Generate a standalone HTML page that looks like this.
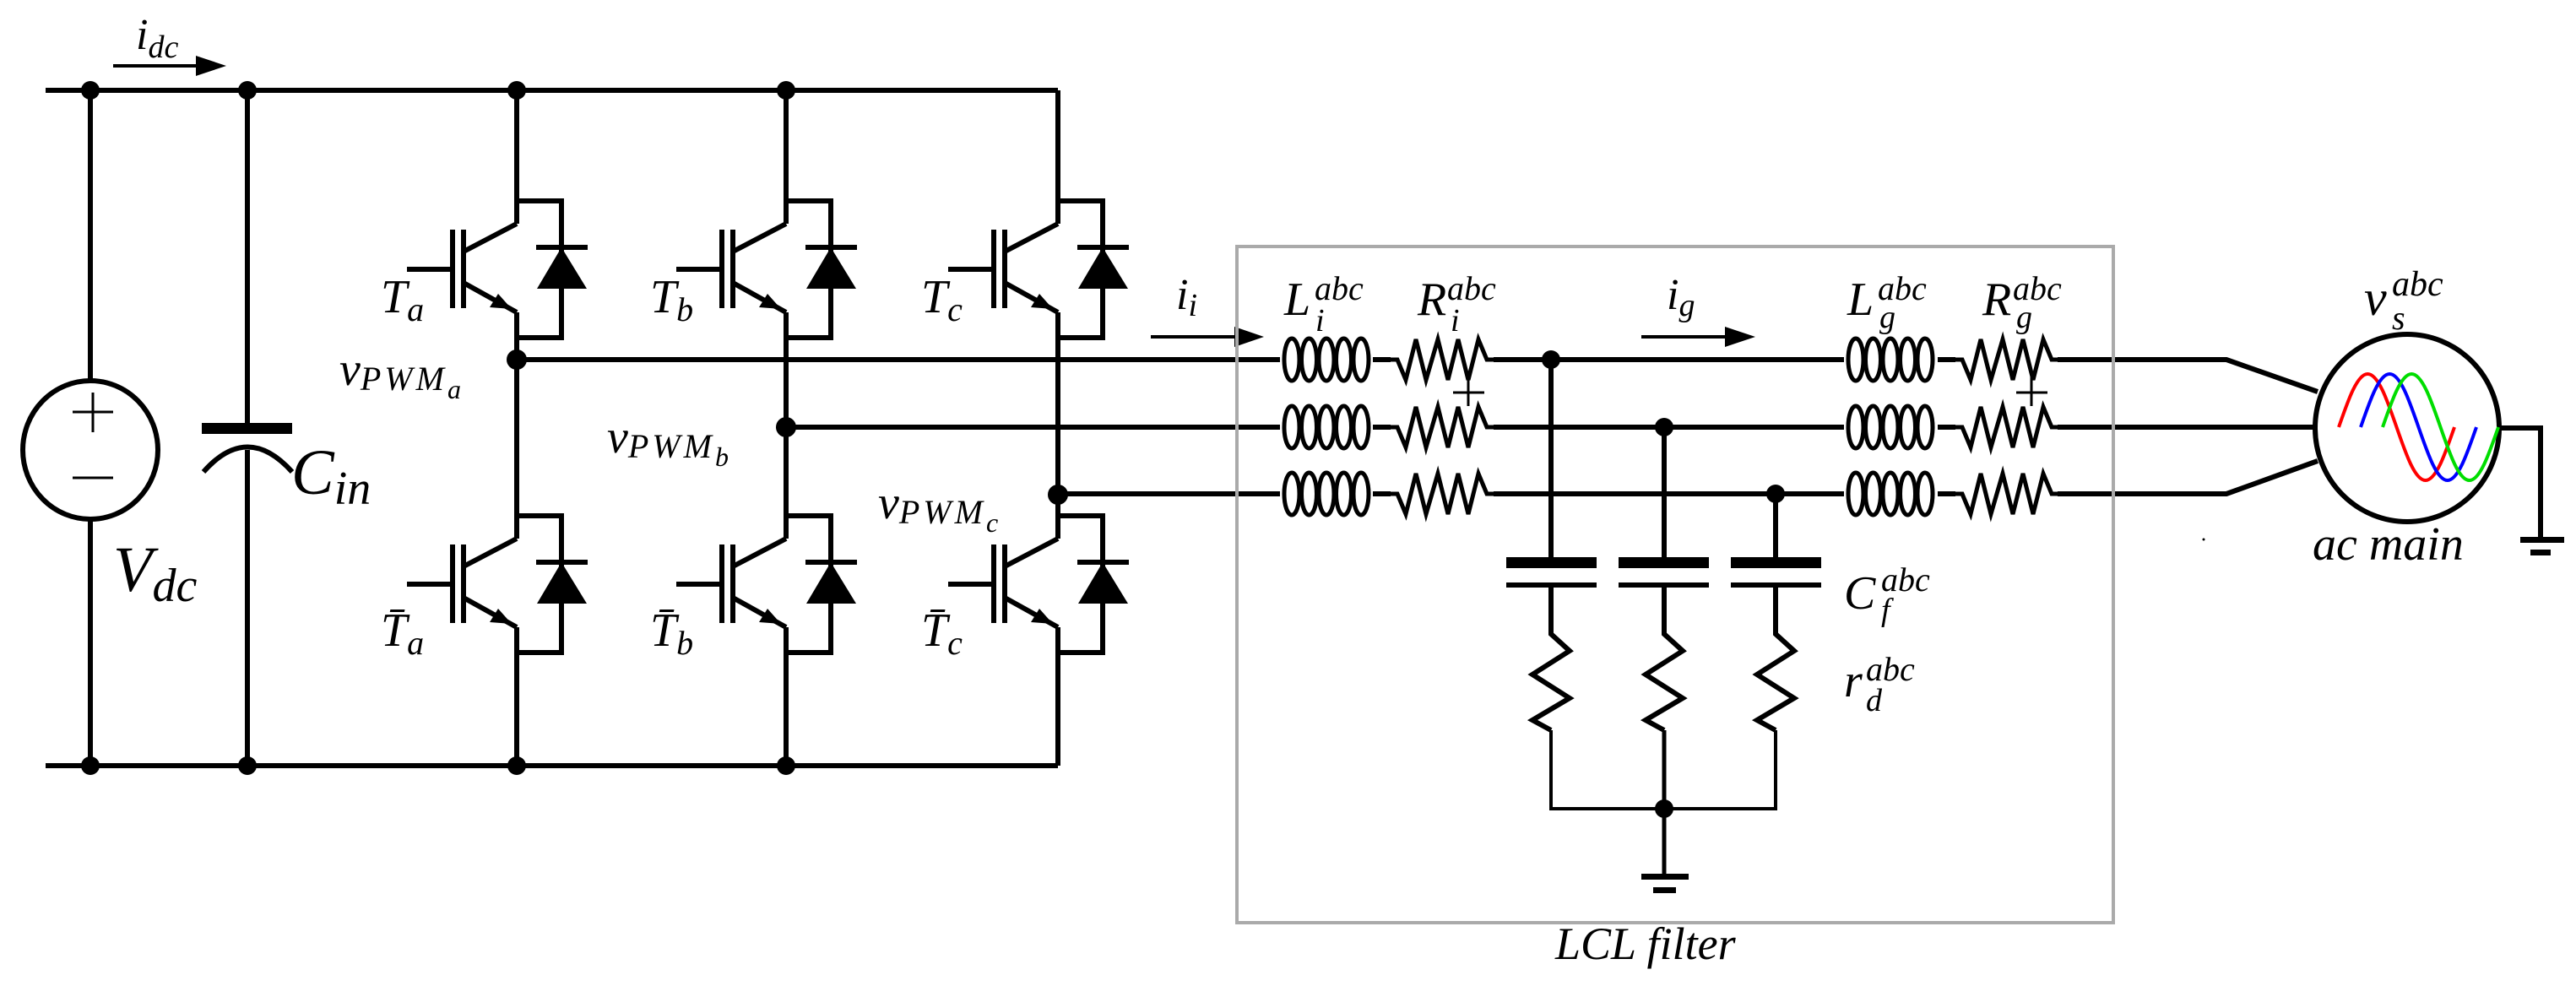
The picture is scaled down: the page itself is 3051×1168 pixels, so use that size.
<!DOCTYPE html>
<html><head><meta charset="utf-8"><style>
html,body{margin:0;padding:0;background:#fff;}
svg{display:block;}
text{font-family:"Liberation Serif","DejaVu Serif",serif;font-style:italic;fill:#000;}
</style></head><body>
<svg width="3051" height="1168" viewBox="0 0 3051 1168" xmlns="http://www.w3.org/2000/svg" font-family="Liberation Serif, DejaVu Serif, serif" font-style="italic">
<defs>
<g id="igbt">
  <polyline points="0,27 -63,60" fill="none" stroke="#000" stroke-width="6"/>
  <line x1="-63" y1="34" x2="-63" y2="127" stroke="#000" stroke-width="6"/>
  <line x1="-76" y1="34" x2="-76" y2="127" stroke="#000" stroke-width="6"/>
  <line x1="-130" y1="81" x2="-76" y2="81" stroke="#000" stroke-width="6"/>
  <line x1="-63" y1="97" x2="0" y2="132" stroke="#000" stroke-width="6"/>
  <polygon points="-6,128 -32,126 -22,110" fill="#000"/>
  <polyline points="0,0 53,0 53,162 0,162" fill="none" stroke="#000" stroke-width="6"/>
  <line x1="23" y1="55" x2="84" y2="55" stroke="#000" stroke-width="6"/>
  <polygon points="53,55 24,104 83,104" fill="#000"/>
</g>
<g id="ind" fill="none" stroke="#000" stroke-width="5">
  <ellipse cx="14" cy="0" rx="9" ry="25"/>
  <ellipse cx="34.5" cy="0" rx="9" ry="25"/>
  <ellipse cx="55" cy="0" rx="9" ry="25"/>
  <ellipse cx="75.5" cy="0" rx="9" ry="25"/>
  <ellipse cx="96" cy="0" rx="9" ry="25"/>
</g>
<polyline id="res" points="0,0 8,0 18,24 30,-24 42,24 56,-24 68,24 80,-24 92,24 104,-24 114,0 122,0" fill="none" stroke="#000" stroke-width="5"/>
<polyline id="vres" points="0,0 0,6 22,26 -22,54 22,82 -22,108 0,120" fill="none" stroke="#000" stroke-width="6"/>
<path id="sine" d="M0,0 C11.2,-32.3 21.8,-63 34.25,-63 S57.3,-32.3 68.5,0 S90.3,63 102.75,63 S125.8,32.3 137,0" fill="none" stroke-width="4"/>
</defs>

<g stroke="#000" stroke-width="6" fill="none">
  <line x1="54" y1="107" x2="1253" y2="107"/>
  <line x1="54" y1="907" x2="1253" y2="907"/>
  <line x1="107" y1="107" x2="107" y2="451"/>
  <line x1="107" y1="615" x2="107" y2="907"/>
  <ellipse cx="107" cy="533" rx="80" ry="82"/>
  <line x1="293" y1="107" x2="293" y2="502"/>
  <line x1="293" y1="533" x2="293" y2="907"/>
  <path d="M241,559 Q293,500 346,559"/>
  <line x1="612" y1="107" x2="612" y2="265"/>
  <line x1="612" y1="370" x2="612" y2="638"/>
  <line x1="612" y1="743" x2="612" y2="907"/>
  <line x1="931" y1="107" x2="931" y2="265"/>
  <line x1="931" y1="370" x2="931" y2="638"/>
  <line x1="931" y1="743" x2="931" y2="907"/>
  <line x1="1253" y1="107" x2="1253" y2="265"/>
  <line x1="1253" y1="370" x2="1253" y2="638"/>
  <line x1="1253" y1="743" x2="1253" y2="907"/>
  <polyline points="612,426 1516,426"/>
  <polyline points="931,506 1516,506"/>
  <polyline points="1253,585 1516,585"/>
  <line x1="1626" y1="426" x2="1647" y2="426"/>
  <line x1="1626" y1="506" x2="1647" y2="506"/>
  <line x1="1626" y1="585" x2="1647" y2="585"/>
  <line x1="1769" y1="426" x2="2184" y2="426"/>
  <line x1="1769" y1="506" x2="2184" y2="506"/>
  <line x1="1769" y1="585" x2="2184" y2="585"/>
  <line x1="2295" y1="426" x2="2316" y2="426"/>
  <line x1="2295" y1="506" x2="2316" y2="506"/>
  <line x1="2295" y1="585" x2="2316" y2="585"/>
  <polyline points="2437,426 2637,426 2745,464"/>
  <line x1="2437" y1="506" x2="2742" y2="506"/>
  <polyline points="2437,585 2637,585 2745,546"/>
  <line x1="1837" y1="426" x2="1837" y2="663"/>
  <line x1="1971" y1="506" x2="1971" y2="663"/>
  <line x1="2103" y1="585" x2="2103" y2="663"/>
  <line x1="1837" y1="693" x2="1837" y2="745"/>
  <line x1="1971" y1="693" x2="1971" y2="745"/>
  <line x1="2103" y1="693" x2="2103" y2="745"/>
  <polyline points="1837,865 1837,958 2103,958 2103,865" stroke-width="4"/>
  <line x1="1971" y1="865" x2="1971" y2="1039" stroke-width="5"/>
  <polyline points="2961,507 3009,507 3009,639"/>
  <ellipse cx="2851" cy="507" rx="109" ry="111"/>
  <line x1="134" y1="78" x2="236" y2="78" stroke-width="4"/>
  <line x1="1363" y1="399" x2="1465" y2="399" stroke-width="4"/>
  <line x1="1944" y1="399" x2="2045" y2="399" stroke-width="4"/>
</g>
<polygon points="232,66 268,78 232,90" fill="#000"/>
<polygon points="1462,387 1497,399 1462,411" fill="#000"/>
<polygon points="2043,387 2079,399 2043,411" fill="#000"/>

<g stroke="#000" stroke-width="3">
  <line x1="86" y1="488" x2="134" y2="488"/><line x1="110" y1="465" x2="110" y2="512"/>
  <line x1="86" y1="566" x2="134" y2="566"/>
  <line x1="1721" y1="465" x2="1758" y2="465"/><line x1="1739" y1="446" x2="1739" y2="481"/>
  <line x1="2388" y1="465" x2="2425" y2="465"/><line x1="2406" y1="446" x2="2406" y2="481"/>
</g>
<rect x="239" y="501" width="107" height="13" fill="#000"/>
<rect x="1784" y="660" width="107" height="13" fill="#000"/>
<rect x="1917" y="660" width="107" height="13" fill="#000"/>
<rect x="2050" y="660" width="107" height="13" fill="#000"/>
<rect x="1784" y="690" width="107" height="6" fill="#000"/>
<rect x="1917" y="690" width="107" height="6" fill="#000"/>
<rect x="2050" y="690" width="107" height="6" fill="#000"/>
<rect x="1944" y="1035" width="56" height="7" fill="#000"/>
<rect x="1958" y="1051" width="27" height="7" fill="#000"/>
<rect x="2985" y="636" width="52" height="7" fill="#000"/>
<rect x="2997" y="651" width="24" height="7" fill="#000"/>

<use href="#igbt" x="612" y="238"/><use href="#igbt" x="612" y="611"/>
<use href="#igbt" x="931" y="238"/><use href="#igbt" x="931" y="611"/>
<use href="#igbt" x="1253" y="238"/><use href="#igbt" x="1253" y="611"/>

<use href="#ind" x="1516" y="426"/><use href="#ind" x="1516" y="506"/><use href="#ind" x="1516" y="585"/>
<use href="#ind" x="2184" y="426"/><use href="#ind" x="2184" y="506"/><use href="#ind" x="2184" y="585"/>
<use href="#res" x="1647" y="426"/><use href="#res" x="1647" y="506"/><use href="#res" x="1647" y="585"/>
<use href="#res" x="2316" y="426"/><use href="#res" x="2316" y="506"/><use href="#res" x="2316" y="585"/>
<use href="#vres" x="1837" y="745"/><use href="#vres" x="1971" y="745"/><use href="#vres" x="2103" y="745"/>

<use href="#sine" x="2770" y="506" stroke="#ff0000"/>
<use href="#sine" x="2796" y="506" stroke="#0000ff"/>
<use href="#sine" x="2822" y="506" stroke="#00dd00"/>

<g fill="#000">
  <circle cx="107" cy="107" r="11"/><circle cx="293" cy="107" r="11"/><circle cx="612" cy="107" r="11"/><circle cx="931" cy="107" r="11"/>
  <circle cx="107" cy="907" r="11"/><circle cx="293" cy="907" r="11"/><circle cx="612" cy="907" r="11"/><circle cx="931" cy="907" r="11"/>
  <circle cx="612" cy="426" r="12"/><circle cx="931" cy="506" r="12"/><circle cx="1253" cy="586" r="12"/>
  <circle cx="1837" cy="426" r="11"/><circle cx="1971" cy="506" r="11"/><circle cx="2103" cy="585" r="11"/>
  <circle cx="1971" cy="958" r="11"/>
  <circle cx="2610" cy="639" r="1.5"/>
</g>

<rect x="1465" y="292" width="1038" height="801" fill="none" stroke="#aaaaaa" stroke-width="4"/>

<text x="161" y="58" font-size="52">i<tspan font-size="38" dy="10">dc</tspan></text>
<text x="134" y="700" font-size="76">V<tspan font-size="56" dy="12">dc</tspan></text>
<text x="345" y="585" font-size="76">C<tspan font-size="56" dy="12">in</tspan></text>
<text x="402" y="456" font-size="56">v<tspan font-size="40" dy="6" letter-spacing="4">PWM</tspan><tspan font-size="32" dy="10">a</tspan></text>
<text x="719" y="536" font-size="56">v<tspan font-size="40" dy="6" letter-spacing="4">PWM</tspan><tspan font-size="32" dy="10">b</tspan></text>
<text x="1040" y="614" font-size="56">v<tspan font-size="40" dy="6" letter-spacing="4">PWM</tspan><tspan font-size="32" dy="10">c</tspan></text>
<text x="451" y="370" font-size="56">T<tspan font-size="40" dy="10">a</tspan></text>
<text x="770" y="370" font-size="56">T<tspan font-size="40" dy="10">b</tspan></text>
<text x="1091" y="370" font-size="56">T<tspan font-size="40" dy="10">c</tspan></text>
<text x="451" y="765" font-size="56">T&#772;<tspan font-size="40" dy="10">a</tspan></text>
<text x="770" y="765" font-size="56">T&#772;<tspan font-size="40" dy="10">b</tspan></text>
<text x="1091" y="765" font-size="56">T&#772;<tspan font-size="40" dy="10">c</tspan></text>
<text x="1393" y="366" font-size="52">i<tspan font-size="38" dy="8">i</tspan></text>
<text x="1521" y="373" font-size="56">L</text><text x="1557" y="355" font-size="40">abc</text><text x="1558" y="392" font-size="38">i</text>
<text x="1679" y="373" font-size="56">R</text><text x="1714" y="355" font-size="40">abc</text><text x="1718" y="392" font-size="38">i</text>
<text x="1974" y="366" font-size="52">i<tspan font-size="38" dy="8">g</tspan></text>
<text x="2188" y="373" font-size="56">L</text><text x="2224" y="355" font-size="40">abc</text><text x="2226" y="388" font-size="38">g</text>
<text x="2348" y="373" font-size="56">R</text><text x="2384" y="355" font-size="40">abc</text><text x="2388" y="388" font-size="38">g</text>
<text x="2800" y="373" font-size="60">v</text><text x="2833" y="350" font-size="42">abc</text><text x="2833" y="390" font-size="40">s</text>
<text x="2739" y="663" font-size="56">ac main</text>
<text x="2184" y="721" font-size="56">C</text><text x="2228" y="700" font-size="40">abc</text><text x="2228" y="735" font-size="38">f</text>
<text x="2184" y="825" font-size="56">r</text><text x="2210" y="806" font-size="40">abc</text><text x="2210" y="842" font-size="38">d</text>
<text x="1842" y="1136" font-size="54">LCL filter</text>
</svg>
</body></html>
